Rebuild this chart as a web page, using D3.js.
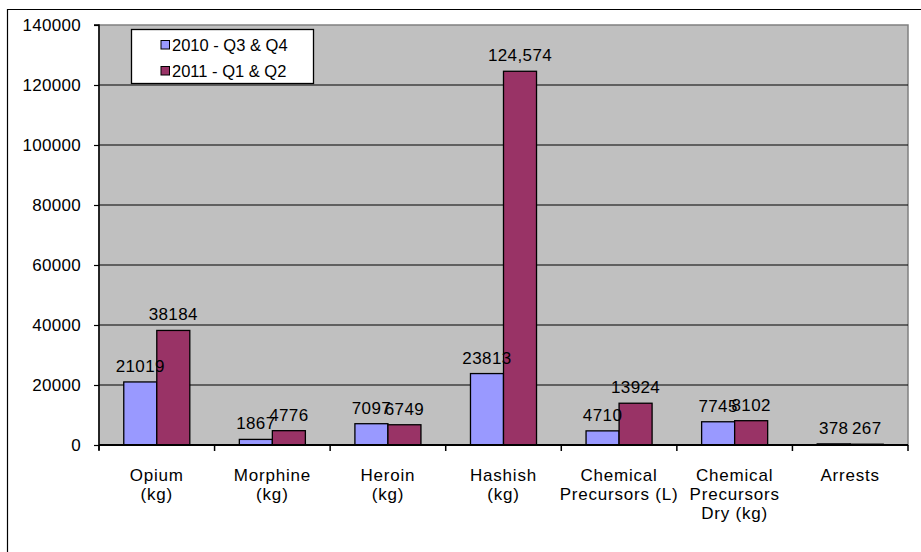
<!DOCTYPE html>
<html>
<head>
<meta charset="utf-8">
<script src="https://cdn.jsdelivr.net/npm/d3@7"></script>
<style>
  html, body { margin: 0; padding: 0; background: #fff; }
  svg { display: block; font-family: Arial, "Liberation Sans", sans-serif; }
</style>
</head>
<body>
<svg id="chart" width="921" height="552"></svg>
<script>
// Seizures and arrests, two half-year periods
const categories = [
  ["Opium", "(kg)"],
  ["Morphine", "(kg)"],
  ["Heroin", "(kg)"],
  ["Hashish", "(kg)"],
  ["Chemical", "Precursors (L)"],
  ["Chemical", "Precursors", "Dry (kg)"],
  ["Arrests"]
];
const seriesNames = ["2010 - Q3 & Q4", "2011 - Q1 & Q2"];
const values2010 = [21019, 1867, 7097, 23813, 4710, 7745, 378];
const values2011 = [38184, 4776, 6749, 124574, 13924, 8102, 267];
const labels2010 = ["21019", "1867", "7097", "23813", "4710", "7745", "378"];
const labels2011 = ["38184", "4776", "6749", "124,574", "13924", "8102", "267"];
const yTicks = [0, 20000, 40000, 60000, 80000, 100000, 120000, 140000];
const colors = ["#9999FF", "#993366"];

const svg = d3.select("#chart");
const plot = { left: 99, top: 25, right: 908, bottom: 445 };

// outer frame
svg.append("path")
  .attr("d", "M7.5,552 V9.5 H921")
  .attr("fill", "none").attr("stroke", "#000").attr("stroke-width", 1.2);

const x = d3.scaleBand()
  .domain(d3.range(categories.length))
  .range([plot.left, plot.right])
  .paddingInner(0).paddingOuter(0);
const x1 = d3.scaleBand()
  .domain([0, 1])
  .range([0, x.bandwidth()])
  .paddingOuter(0.75).paddingInner(0);
const y = d3.scaleLinear().domain([0, 140000]).range([plot.bottom, plot.top]);

// plot area
svg.append("rect")
  .attr("x", plot.left).attr("y", plot.top)
  .attr("width", plot.right - plot.left).attr("height", plot.bottom - plot.top)
  .attr("fill", "#C0C0C0").attr("stroke", "#808080").attr("stroke-width", 1.5);

// gridlines
svg.append("g").selectAll("line")
  .data(yTicks.filter(d => d > 0 && d < 140000))
  .join("line")
  .attr("x1", plot.left).attr("x2", plot.right)
  .attr("y1", d => y(d)).attr("y2", d => y(d))
  .attr("stroke", "#000").attr("stroke-width", 1);

// y axis
const yAxis = d3.axisLeft(y).tickValues(yTicks).tickSize(5).tickPadding(13).tickFormat(d3.format("d"));
const gy = svg.append("g").attr("transform", `translate(${plot.left},0)`).call(yAxis);
gy.select(".domain").attr("stroke", "#000").attr("stroke-width", 1.5).attr("d", `M-5,${plot.top}H0V${plot.bottom + 5}`);
gy.selectAll(".tick line").attr("stroke", "#000").attr("stroke-width", 1.2);
gy.selectAll(".tick text").attr("font-size", 17).attr("fill", "#000").attr("letter-spacing", 0.3)
  .attr("font-family", "Arial, 'Liberation Sans', sans-serif");

// bars
const series = [values2010, values2011];
const seriesLabels = [labels2010, labels2011];
series.forEach((vals, s) => {
  svg.append("g").selectAll("rect")
    .data(vals)
    .join("rect")
    .attr("x", (d, i) => x(i) + x1(s))
    .attr("y", d => y(d))
    .attr("width", x1.bandwidth())
    .attr("height", d => y(0) - y(d))
    .attr("fill", colors[s]).attr("stroke", "#000").attr("stroke-width", 1.3);
});

// x axis baseline and category ticks
const xAxis = d3.axisBottom(x).tickSize(0).tickFormat("");
const gx = svg.append("g").attr("transform", `translate(0,${plot.bottom})`).call(xAxis);
gx.select(".domain").attr("stroke", "#000").attr("stroke-width", 2).attr("d", `M${plot.left},0H${plot.right}`);
gx.selectAll(".tick").remove();
svg.append("g").selectAll("line")
  .data(d3.range(categories.length + 1))
  .join("line")
  .attr("x1", i => i < categories.length ? x(i) : plot.right)
  .attr("x2", i => i < categories.length ? x(i) : plot.right)
  .attr("y1", plot.bottom).attr("y2", plot.bottom + 6)
  .attr("stroke", "#000").attr("stroke-width", 1.5);

// category labels
const catG = svg.append("g").attr("font-size", 17).attr("fill", "#000").attr("text-anchor", "middle");
categories.forEach((lines, i) => {
  const t = catG.append("text")
    .attr("x", x(i) + x.bandwidth() / 2)
    .attr("y", 481)
    .attr("letter-spacing", 0.8);
  lines.forEach((ln, j) => {
    t.append("tspan").attr("x", x(i) + x.bandwidth() / 2).attr("dy", j === 0 ? 0 : 18.8).text(ln);
  });
});

// value labels (neighbouring labels may touch where bars are short and close)
series.forEach((vals, s) => {
  svg.append("g").selectAll("text")
    .data(vals)
    .join("text")
    .attr("x", (d, i) => x(i) + x1(s) + x1.bandwidth() / 2)
    .attr("y", d => y(d) - 10)
    .attr("text-anchor", "middle")
    .attr("font-size", 17).attr("letter-spacing", 0.4).attr("fill", "#000")
    .text((d, i) => seriesLabels[s][i]);
});

// legend
const lg = svg.append("g");
lg.append("rect").attr("x", 131.5).attr("y", 29.5).attr("width", 182).attr("height", 54)
  .attr("fill", "#fff").attr("stroke", "#000").attr("stroke-width", 1.3);
seriesNames.forEach((name, s) => {
  const cy = 45 + s * 26;
  lg.append("rect").attr("x", 161).attr("y", cy - 4.5).attr("width", 8.5).attr("height", 8.5)
    .attr("fill", colors[s]).attr("stroke", "#000").attr("stroke-width", 1);
  lg.append("text").attr("x", 172).attr("y", cy + 6)
    .attr("font-size", 16.5).attr("fill", "#000").text(name);
});
</script>
</body>
</html>
